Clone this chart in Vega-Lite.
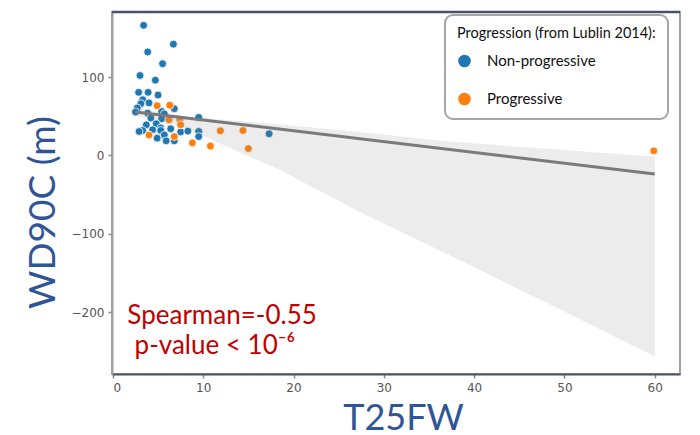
{
  "$schema": "https://vega.github.io/schema/vega-lite/v6.json",
  "width": 568,
  "height": 362,
  "autosize": "none",
  "padding": {"left": 112, "top": 12, "right": 20, "bottom": 61},
  "background": "white",
  "config": {
    "view": {"stroke": "#a0a0a0", "strokeWidth": 2},
    "axis": {"grid": false, "labelFont": "DejaVu Sans", "labelFontSize": 12, "labelColor": "#555555", "tickColor": "#888888", "tickSize": 4, "tickWidth": 1.5, "labelPadding": 4},
    "legend": {"strokeWidth": 2}
  },
  "datasets": {
    "pts": [
      {"t25fw": 3.4, "wd90c": 166, "group": "Non-progressive"},
      {"t25fw": 6.7, "wd90c": 142, "group": "Non-progressive"},
      {"t25fw": 3.85, "wd90c": 132, "group": "Non-progressive"},
      {"t25fw": 5.5, "wd90c": 117, "group": "Non-progressive"},
      {"t25fw": 3.0, "wd90c": 102, "group": "Non-progressive"},
      {"t25fw": 4.7, "wd90c": 96, "group": "Non-progressive"},
      {"t25fw": 2.85, "wd90c": 80.5, "group": "Non-progressive"},
      {"t25fw": 3.9, "wd90c": 80.5, "group": "Non-progressive"},
      {"t25fw": 5.0, "wd90c": 77, "group": "Non-progressive"},
      {"t25fw": 3.3, "wd90c": 71, "group": "Non-progressive"},
      {"t25fw": 3.1, "wd90c": 66, "group": "Non-progressive"},
      {"t25fw": 4.0, "wd90c": 67, "group": "Non-progressive"},
      {"t25fw": 2.7, "wd90c": 60.5, "group": "Non-progressive"},
      {"t25fw": 6.8, "wd90c": 59.6, "group": "Non-progressive"},
      {"t25fw": 2.5, "wd90c": 55.4, "group": "Non-progressive"},
      {"t25fw": 3.85, "wd90c": 54, "group": "Non-progressive"},
      {"t25fw": 5.4, "wd90c": 56, "group": "Non-progressive"},
      {"t25fw": 5.7, "wd90c": 53, "group": "Non-progressive"},
      {"t25fw": 4.2, "wd90c": 47.7, "group": "Non-progressive"},
      {"t25fw": 5.4, "wd90c": 46.8, "group": "Non-progressive"},
      {"t25fw": 6.25, "wd90c": 45.5, "group": "Non-progressive"},
      {"t25fw": 9.5, "wd90c": 48.5, "group": "Non-progressive"},
      {"t25fw": 3.7, "wd90c": 39, "group": "Non-progressive"},
      {"t25fw": 4.8, "wd90c": 40.4, "group": "Non-progressive"},
      {"t25fw": 5.3, "wd90c": 35, "group": "Non-progressive"},
      {"t25fw": 3.3, "wd90c": 31.8, "group": "Non-progressive"},
      {"t25fw": 4.4, "wd90c": 32.7, "group": "Non-progressive"},
      {"t25fw": 5.3, "wd90c": 31.8, "group": "Non-progressive"},
      {"t25fw": 6.4, "wd90c": 34, "group": "Non-progressive"},
      {"t25fw": 7.5, "wd90c": 30, "group": "Non-progressive"},
      {"t25fw": 8.3, "wd90c": 31, "group": "Non-progressive"},
      {"t25fw": 9.5, "wd90c": 30.5, "group": "Non-progressive"},
      {"t25fw": 9.5, "wd90c": 24, "group": "Non-progressive"},
      {"t25fw": 2.9, "wd90c": 30.5, "group": "Non-progressive"},
      {"t25fw": 5.7, "wd90c": 26, "group": "Non-progressive"},
      {"t25fw": 4.9, "wd90c": 22, "group": "Non-progressive"},
      {"t25fw": 5.9, "wd90c": 18.6, "group": "Non-progressive"},
      {"t25fw": 6.8, "wd90c": 18.6, "group": "Non-progressive"},
      {"t25fw": 17.3, "wd90c": 27.6, "group": "Non-progressive"},
      {"t25fw": 4.9, "wd90c": 63.5, "group": "Progressive"},
      {"t25fw": 6.3, "wd90c": 64, "group": "Progressive"},
      {"t25fw": 6.2, "wd90c": 45.5, "group": "Progressive"},
      {"t25fw": 7.4, "wd90c": 45.5, "group": "Progressive"},
      {"t25fw": 7.5, "wd90c": 39, "group": "Progressive"},
      {"t25fw": 4.0, "wd90c": 26, "group": "Progressive"},
      {"t25fw": 6.8, "wd90c": 24, "group": "Progressive"},
      {"t25fw": 8.8, "wd90c": 16, "group": "Progressive"},
      {"t25fw": 10.8, "wd90c": 12, "group": "Progressive"},
      {"t25fw": 11.9, "wd90c": 31.4, "group": "Progressive"},
      {"t25fw": 14.4, "wd90c": 31.8, "group": "Progressive"},
      {"t25fw": 15.0, "wd90c": 8.7, "group": "Progressive"},
      {"t25fw": 59.9, "wd90c": 5.8, "group": "Progressive"}
    ],
    "band": [
      {"x": 2.5, "lo": 50, "hi": 61},
      {"x": 5, "lo": 46, "hi": 55},
      {"x": 7.7, "lo": 36.4, "hi": 50.7},
      {"x": 11.1, "lo": 19, "hi": 46.6},
      {"x": 18.5, "lo": -18.7, "hi": 39.5},
      {"x": 27.3, "lo": -71.8, "hi": 30},
      {"x": 37, "lo": -126, "hi": 18},
      {"x": 47.3, "lo": -184, "hi": 9},
      {"x": 60, "lo": -256.6, "hi": -1.8}
    ],
    "fit": [
      {"x": 2.5, "y": 55.5},
      {"x": 60, "y": -23.8}
    ],
    "notes": [
      {"x": 1.6, "y": -204.5, "label": "Spearman=-0.55"},
      {"x": 2.4, "y": -243, "label": "p-value < 10⁻⁶"}
    ]
  },
  "layer": [
    {
      "data": {"name": "pts"},
      "mark": {"type": "point", "shape": "circle", "filled": true, "opacity": 1, "stroke": "white", "strokeWidth": 0.8, "size": 62},
      "encoding": {
        "x": {"field": "t25fw", "type": "quantitative", "scale": {"domain": [-0.1, 62.8], "nice": false, "zero": false},
              "axis": {"values": [0, 10, 20, 30, 40, 50, 60], "domainColor": "#44546a", "domainWidth": 2,
                       "title": "T25FW", "titleFont": "Lato", "titleFontSize": 36, "titleFontWeight": "normal", "titleColor": "#2f5597",
                       "titleX": 291, "titleY": 55, "titleAlign": "center", "titleBaseline": "alphabetic"}},
        "y": {"field": "wd90c", "type": "quantitative", "scale": {"domain": [-279, 183], "nice": false, "zero": false},
              "axis": {"values": [-200, -100, 0, 100], "domainColor": "#a0a0a0", "domainWidth": 2,
                       "title": "WD90C (m)", "titleFont": "Lato", "titleFontSize": 37, "titleFontWeight": "normal", "titleColor": "#2f5597",
                       "titleX": -57.5, "titleY": 200, "titleAlign": "center", "titleAngle": 270, "titleBaseline": "alphabetic"}},
        "color": {"field": "group", "type": "nominal",
                  "scale": {"domain": ["Non-progressive", "Progressive"], "range": ["#1f77b4", "#ff7f0e"]},
                  "legend": {"title": "Progression (from Lublin 2014):", "orient": "none", "legendX": 333, "legendY": 3,
                             "titleFont": "Lato", "titleFontSize": 14.5, "titleFontWeight": "normal", "titleColor": "#111111", "titlePadding": 12, "titleLimit": 400,
                             "labelFont": "Lato", "labelFontSize": 15, "labelColor": "#111111", "labelOffset": 15,
                             "symbolType": "circle", "symbolSize": 160, "symbolStrokeWidth": 0, "symbolOpacity": 1,
                             "rowPadding": 22, "padding": 12, "strokeColor": "#a6a6a6", "cornerRadius": 8, "fillColor": "white"}}
      }
    },
    {
      "data": {"name": "band"},
      "mark": {"type": "area", "color": "#7f7f7f", "opacity": 0.15},
      "encoding": {
        "x": {"field": "x", "type": "quantitative"},
        "y": {"field": "lo", "type": "quantitative"},
        "y2": {"field": "hi"}
      }
    },
    {
      "data": {"name": "fit"},
      "mark": {"type": "line", "color": "#7a7a7a", "strokeWidth": 3},
      "encoding": {
        "x": {"field": "x", "type": "quantitative"},
        "y": {"field": "y", "type": "quantitative"}
      }
    },
    {
      "data": {"values": [{}]},
      "mark": {"type": "rule", "color": "#44546a", "strokeWidth": 2.5},
      "encoding": {
        "y": {"datum": 183, "type": "quantitative"}
      }
    },
    {
      "data": {"name": "notes"},
      "mark": {"type": "text", "align": "left", "baseline": "middle", "font": "Lato", "fontSize": 26, "color": "#c00000"},
      "encoding": {
        "x": {"field": "x", "type": "quantitative"},
        "y": {"field": "y", "type": "quantitative"},
        "text": {"field": "label"}
      }
    }
  ]
}
